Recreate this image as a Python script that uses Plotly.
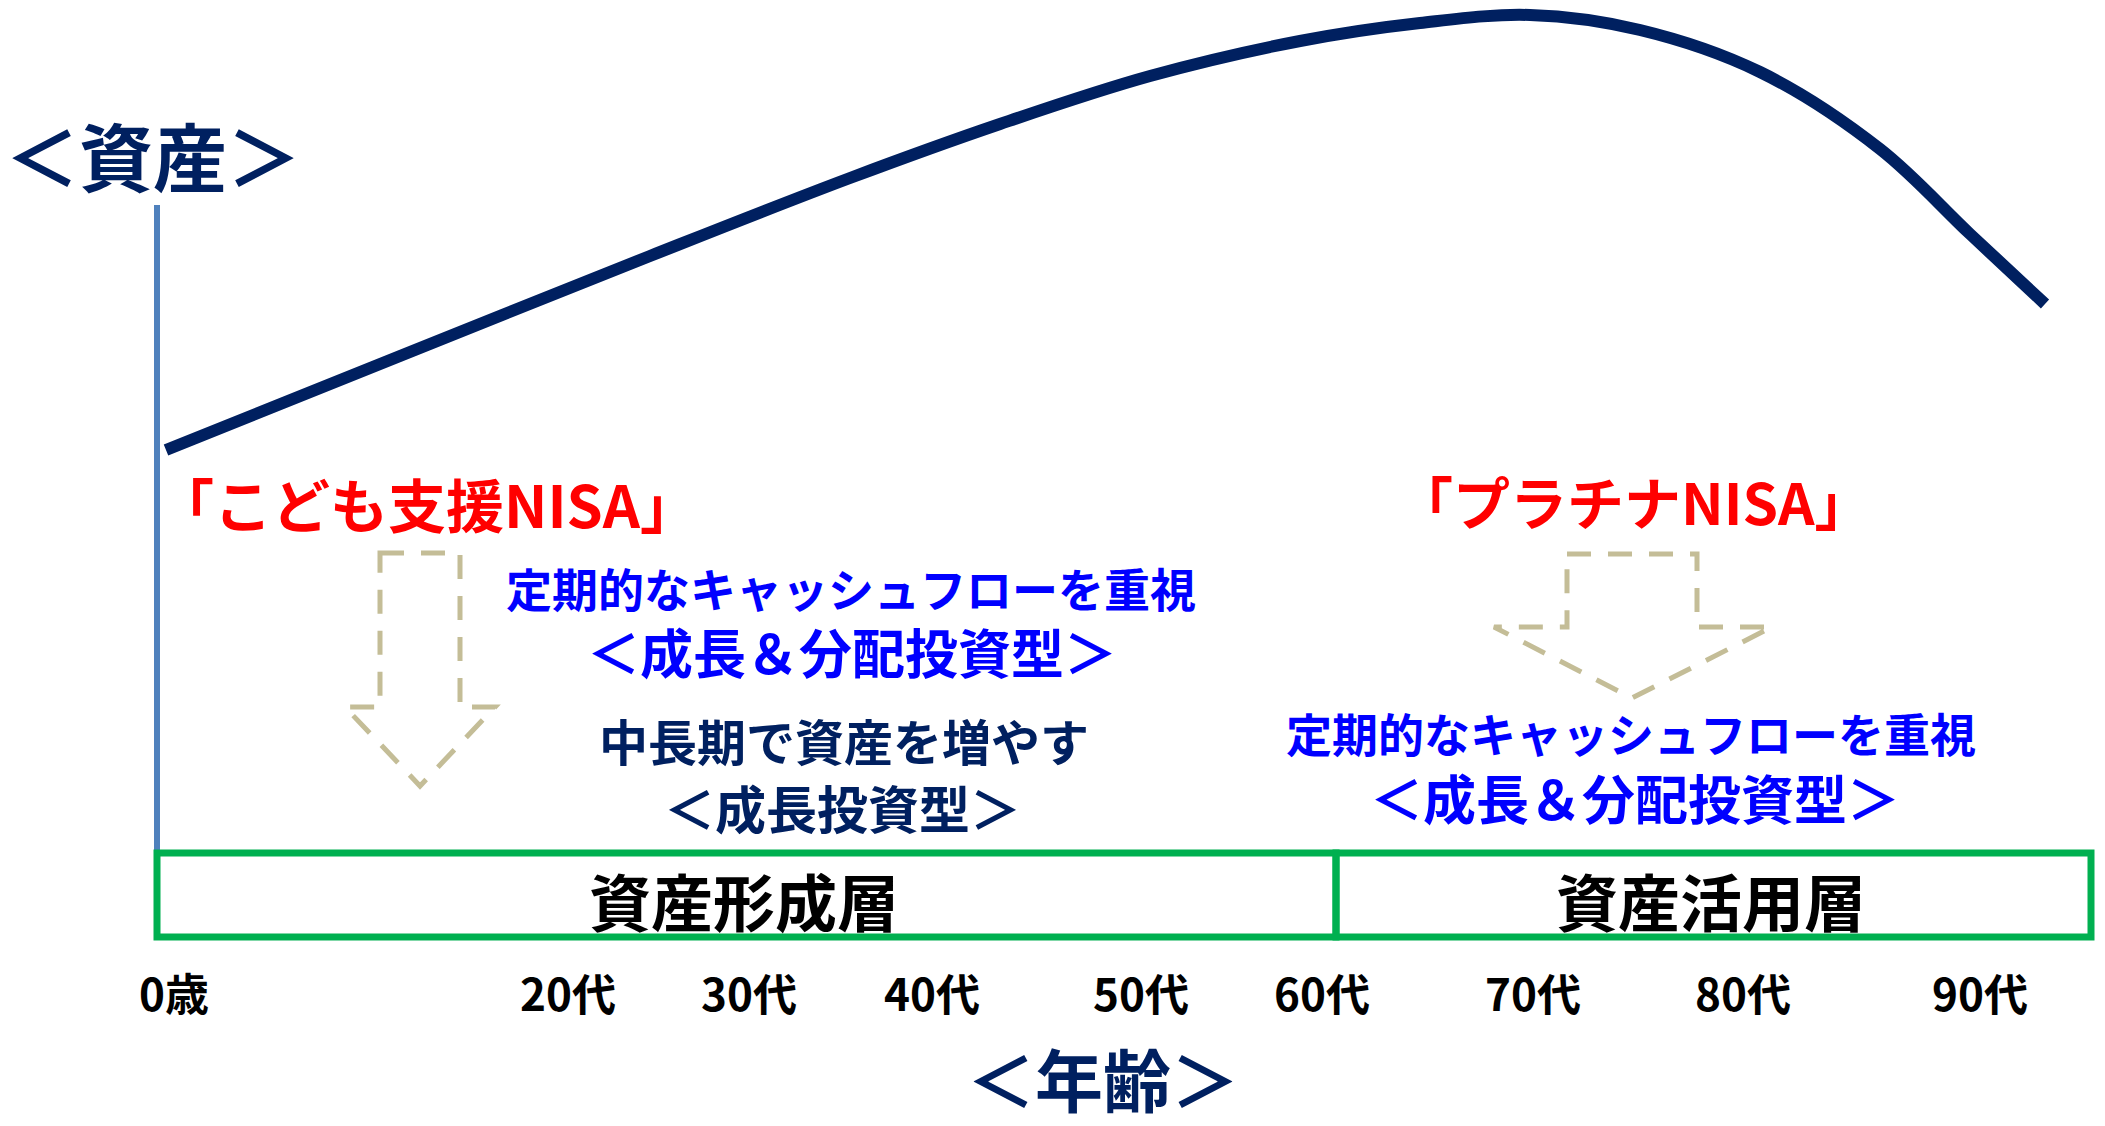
import plotly.graph_objects as go

W, H = 2105, 1126

# ---- data ----
CURVE_X = [166, 400, 650, 850, 1000, 1150, 1300, 1420, 1530, 1640, 1760, 1880, 1970, 2045]
CURVE_ASSET = [676, 770, 870, 948, 1002, 1050, 1085, 1103, 1111, 1096, 1054, 977, 892, 822]

TICK_LABELS = ["0歳", "20代", "30代", "40代", "50代", "60代", "70代", "80代", "90代"]
TICK_POS = [174, 568, 749, 932, 1141, 1322, 1533, 1743, 1980]

PHASE_LABELS = ["資産形成層", "資産活用層"]
PHASE_EDGES = [157, 1336, 2091]

NISA_LABELS = ["「こども支援NISA」", "「プラチナNISA」"]
LEFT_BLUE = ["定期的なキャッシュフローを重視", "＜成長＆分配投資型＞"]
LEFT_NAVY = ["中長期で資産を増やす", "＜成長投資型＞"]
RIGHT_BLUE = ["定期的なキャッシュフローを重視", "＜成長＆分配投資型＞"]
AXIS_TITLES = ["＜資産＞", "＜年齢＞"]

NAVY = "#002060"
RED = "#FF0000"
BLUE = "#0000FF"
GREEN = "#00B050"
TAN = "#C4BD97"
STEEL = "#4F81BD"
FONT = "Noto Sans CJK JP"


def Y(p):
    return H - p


fig = go.Figure()

fig.add_trace(go.Scatter(
    x=CURVE_X, y=CURVE_ASSET, mode="lines",
    line=dict(color=NAVY, width=12, shape="spline", smoothing=1.0),
    hoverinfo="skip", showlegend=False,
))

shapes = []
# vertical asset axis
shapes.append(dict(type="line", xref="x", yref="y", x0=157, x1=157, y0=Y(205), y1=Y(853),
                   line=dict(color=STEEL, width=6)))
# phase boxes
for i in range(2):
    shapes.append(dict(type="rect", xref="x", yref="y",
                       x0=PHASE_EDGES[i], x1=PHASE_EDGES[i + 1], y0=Y(853), y1=Y(937),
                       line=dict(color=GREEN, width=7), fillcolor="rgba(0,0,0,0)"))


def arrow_path(sl, sr, top, sb, hl, hr, tipx, tipy):
    pts = [(sl, top), (sr, top), (sr, sb), (hr, sb), (tipx, tipy), (hl, sb), (sl, sb)]
    return "M " + " L ".join(f"{x},{Y(y)}" for x, y in pts) + " Z"


shapes.append(dict(type="path", xref="x", yref="y",
                   path=arrow_path(380, 460, 553, 707, 345, 495, 420, 786),
                   line=dict(color=TAN, width=5, dash="24px,17px")))
shapes.append(dict(type="path", xref="x", yref="y",
                   path=arrow_path(1567, 1697, 554, 627, 1494, 1772, 1632, 698),
                   line=dict(color=TAN, width=5, dash="24px,17px")))

ann = []


def text(t, x, y, size, color):
    ann.append(dict(text=f"<b>{t}</b>", x=x, y=Y(y), xref="x", yref="y",
                    showarrow=False, xanchor="center", yanchor="middle",
                    font=dict(family=FONT, size=size, color=color, weight=900)))


text(AXIS_TITLES[0], 153, 153, 74, NAVY)
text(AXIS_TITLES[1], 1103, 1077, 68, NAVY)
text(NISA_LABELS[0], 427, 503, 58, RED)
text(NISA_LABELS[1], 1634, 500, 57, RED)
text(LEFT_BLUE[0], 851, 587, 46, BLUE)
text(LEFT_BLUE[1], 852, 651, 53, BLUE)
text(LEFT_NAVY[0], 844, 739, 49, NAVY)
text(LEFT_NAVY[1], 842, 807, 51, NAVY)
text(RIGHT_BLUE[0], 1631, 732, 46, BLUE)
text(RIGHT_BLUE[1], 1635, 797, 53, BLUE)
for i, lab in enumerate(PHASE_LABELS):
    cx = 744 if i == 0 else 1711
    text(lab, cx, 900, 62, "black")

fig.update_layout(
    width=W, height=H,
    margin=dict(l=0, r=0, t=0, b=0, pad=0, autoexpand=False),
    paper_bgcolor="white", plot_bgcolor="white",
    shapes=shapes, annotations=ann,
    xaxis=dict(range=[0, W], showgrid=False, zeroline=False, showline=False,
               tickmode="array", tickvals=TICK_POS,
               ticktext=[f"<b>{t}</b>" for t in TICK_LABELS],
               ticks="", anchor="free", position=(H - 966) / H,
               tickfont=dict(family=FONT, size=44, color="black", weight=900),
               automargin=False, fixedrange=True),
    yaxis=dict(range=[0, H], visible=False, fixedrange=True),
    showlegend=False,
)

fig.write_html("out.html", config={"displayModeBar": False},
               post_script="document.body.style.margin='0';document.body.style.overflow='hidden';")
